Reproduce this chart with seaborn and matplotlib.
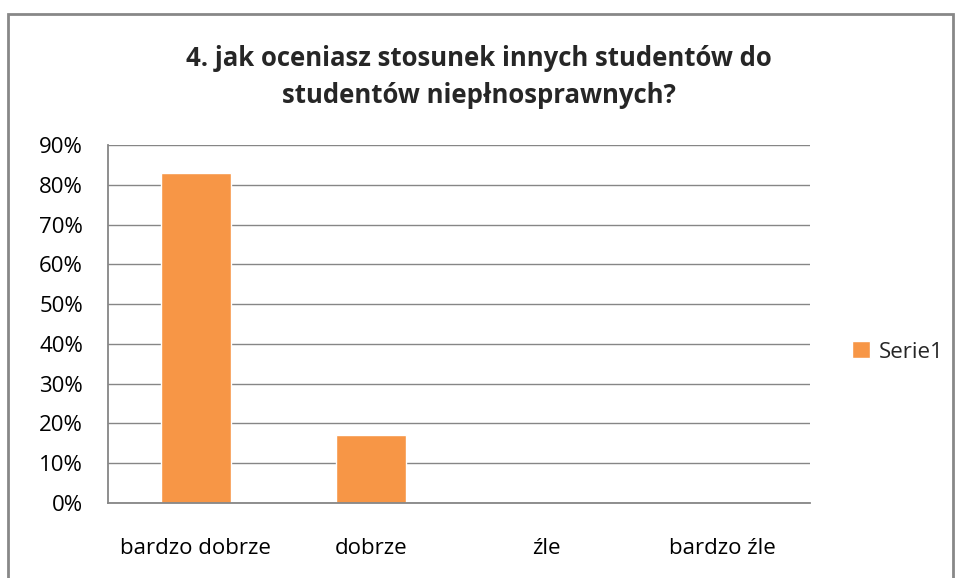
import pandas as pd
import matplotlib.pyplot as plt
import seaborn as sns
from matplotlib.patches import Rectangle
from matplotlib.ticker import PercentFormatter

# Data
categories = ["bardzo dobrze", "dobrze", "źle", "bardzo źle"]
values = [83, 17, 0, 0]
series_name = "Serie1"

df = pd.DataFrame({"ocena": categories, "procent": values, "seria": series_name})

sns.set_theme(style="white")
plt.rcParams["font.family"] = ["Open Sans", "DejaVu Sans"]

grid_col = "#868686"
bar_col = "#F79646"

fig = plt.figure(figsize=(9.57, 5.78), dpi=100)
ax = fig.add_axes([108 / 957, 1 - 503 / 578, (810 - 108) / 957, (503 - 145) / 578])

sns.barplot(data=df, x="ocena", y="procent", hue="seria", palette=[bar_col],
            width=0.4, ax=ax, saturation=1, legend=True)

ax.set_ylim(0, 90)
ax.set_yticks(range(0, 91, 10))
ax.yaxis.set_major_formatter(PercentFormatter(decimals=0))
ax.set_xlim(-0.5, 3.5)
ax.set_xlabel("")
ax.set_ylabel("")
ax.grid(axis="y", color=grid_col, linewidth=1.0)
ax.set_axisbelow(True)
for side in ["top", "right"]:
    ax.spines[side].set_visible(False)
for side in ["left", "bottom"]:
    ax.spines[side].set_color(grid_col)
    ax.spines[side].set_linewidth(1.3)
ax.tick_params(axis="y", length=0, pad=18, labelsize=16, colors="black")
ax.tick_params(axis="x", length=0, pad=25, labelsize=16, colors="black")

leg = ax.legend(loc="center left", bbox_to_anchor=(832 / 957, 1 - 352 / 578),
                bbox_transform=fig.transFigure, frameon=False, fontsize=16,
                handlelength=0.8, handleheight=0.8, handletextpad=0.4)

fig.text(479 / 957, 1 - 77 / 578,
         "4. jak oceniasz stosunek innych studentów do\nstudentów niepłnosprawnych?",
         ha="center", va="center", fontsize=18.5, fontweight="bold",
         linespacing=1.45)

# outer chart border
fig.patches.append(Rectangle((8 / 957, -0.02), (953 - 8) / 957, 1 - 14 / 578 + 0.02,
                             transform=fig.transFigure, fill=False,
                             edgecolor="#888888", linewidth=2))

fig.savefig("out.png", dpi=100)
